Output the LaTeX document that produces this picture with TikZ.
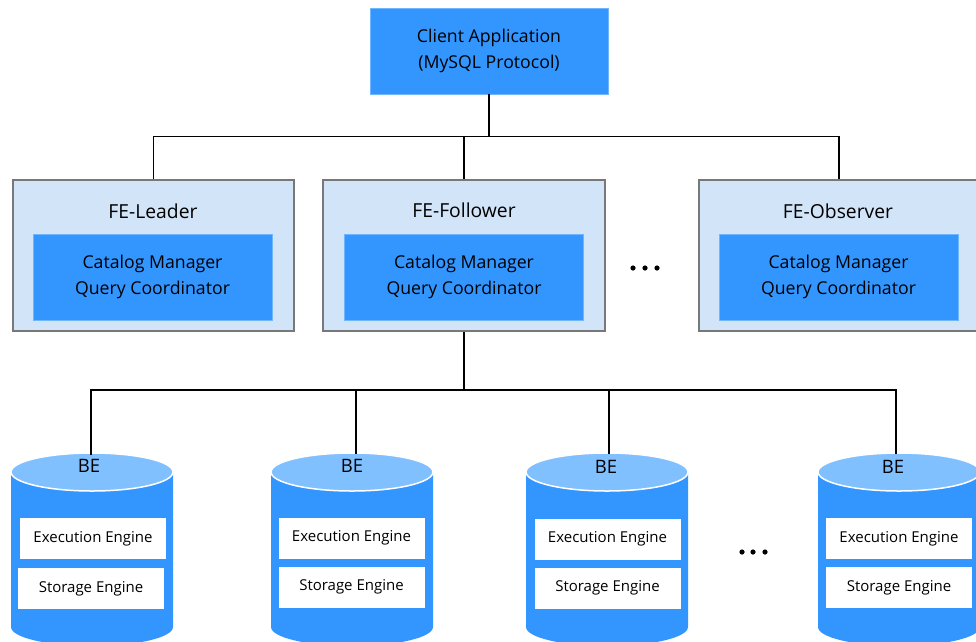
\documentclass[tikz,border=0pt]{standalone}
\usepackage{fontspec}
\setmainfont{Open Sans}
\definecolor{mainblue}{RGB}{51,150,255}
\definecolor{paleblue}{RGB}{210,228,248}
\definecolor{topblue}{RGB}{128,192,255}
\definecolor{boxgray}{RGB}{120,120,120}
\tikzset{
  conn/.style={draw=black, line width=1.3pt},
  clientbox/.style={fill=mainblue, draw=mainblue!70!white, line width=0.8pt, minimum width=238pt, minimum height=86pt, inner sep=0pt, align=center, font=\fontsize{17.7}{25.5}\selectfont},
  febox/.style={fill=paleblue, draw=boxgray, line width=1.2pt, inner sep=0pt},
  inbox/.style={fill=mainblue, draw=mainblue!70!white, line width=0.8pt, minimum width=239pt, minimum height=86pt, inner sep=0pt, align=center, font=\fontsize{17.7}{26}\selectfont},
  fetitle/.style={font=\fontsize{19.3}{21}\selectfont, inner sep=0pt},
  betitle/.style={font=\fontsize{18.5}{20}\selectfont, inner sep=0pt},
  engbox/.style={fill=white, draw=none, minimum width=146pt, minimum height=41pt, inner sep=0pt, font=\fontsize{15}{17}\selectfont},
  dotmark/.style={fill=black, draw=none},
}
\begin{document}
\begin{tikzpicture}[x=1pt,y=1pt]
\useasboundingbox (0,0) rectangle (976,-641);
% Client
\node[clientbox] (client) at (489,-51) {Client Application\\(MySQL Protocol)};
% FE boxes
\node[febox, minimum width=281pt, minimum height=151pt] (fel) at (153.5,-255.5) {};
\node[febox, minimum width=282pt, minimum height=151pt] (fef) at (464,-255.5) {};
\node[febox, minimum width=280pt, minimum height=151pt] (feo) at (839,-255.5) {};
\node[fetitle] (felt) at (153,-211) {FE-Leader};
\node[fetitle] (feft) at (464,-210) {FE-Follower};
\node[fetitle] (feot) at (838,-211) {FE-Observer};
\node[inbox] (feli) at (152.5,-277) {Catalog Manager\\Query Coordinator};
\node[inbox] (fefi) at (464,-277) {Catalog Manager\\Query Coordinator};
\node[inbox] (feoi) at (838.5,-277) {Catalog Manager\\Query Coordinator};
% dots
\fill[dotmark] (633,-268) circle (2.6) (645,-268) circle (2.6) (657,-268) circle (2.6);
\fill[dotmark] (742,-552) circle (2.6) (753,-552) circle (2.6) (765,-552) circle (2.6);
% cylinders
\foreach \L/\n in {11/1,271/2,526/3,818/4}{
  \pgfmathsetmacro{\R}{\L+162}
  \pgfmathsetmacro{\cx}{\L+81}
  \fill[mainblue] (\L,-472) -- (\L,-627) arc[start angle=180,end angle=360,x radius=81,y radius=19] -- (\R,-472) -- cycle;
  \filldraw[fill=topblue, draw=white, line width=1.5pt] (\cx,-472) ellipse [x radius=81, y radius=19];
}
\node[betitle] (be1) at (89,-466) {BE};
\node[betitle] (be2) at (352,-466) {BE};
\node[betitle] (be3) at (606,-467) {BE};
\node[betitle] (be4) at (893,-467) {BE};
\coordinate (be1top) at (91,-455);
\coordinate (be2top) at (356,-454);
\coordinate (be3top) at (609,-454);
\coordinate (be4top) at (896,-454);
\node[engbox] (ex1) at (93,-538.5) {Execution Engine};
\node[engbox] (st1) at (91,-588.5) {Storage Engine};
\node[engbox] (ex2) at (351.5,-538) {Execution Engine};
\node[engbox] (st2) at (351.5,-587) {Storage Engine};
\node[engbox] (ex3) at (607.5,-539) {Execution Engine};
\node[engbox] (st3) at (607.5,-588) {Storage Engine};
\node[engbox] (ex4) at (899,-538.5) {Execution Engine};
\node[engbox] (st4) at (899,-587.5) {Storage Engine};
% connectors top
\draw[conn] (client.south) -- ++(0,-43);
\draw[conn] (fel.north) -- ++(0,43) -| (feo.north);
\draw[conn] (fef.north) -- ++(0,43);
% connectors bottom
\draw[conn] (fef.south) -- ++(0,-59);
\draw[conn] (be1top) -- ++(0,65) -| (be4top);
\draw[conn] (be2top) -- ++(0,64);
\draw[conn] (be3top) -- ++(0,64);
\end{tikzpicture}
\end{document}
